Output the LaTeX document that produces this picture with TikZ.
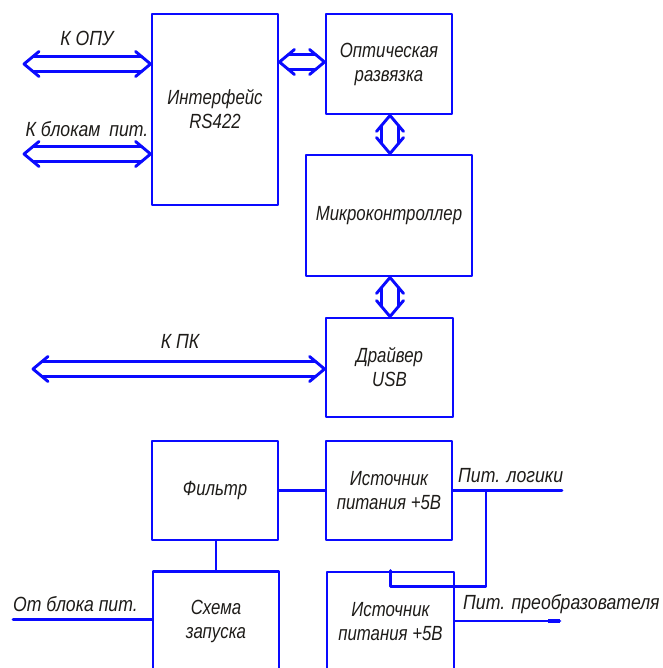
\documentclass[tikz,border=0pt]{standalone}
\usepackage{fontspec}
\setmainfont{Liberation Sans}
\newfontfamily\labfont{Liberation Sans}[FakeStretch=0.82]
\newfontfamily\extfont{Liberation Sans}[FakeStretch=0.86]
\usetikzlibrary{calc}
\definecolor{wireblue}{RGB}{10,10,255}
\definecolor{txtcol}{RGB}{30,28,25}
% horizontal double arrow between two named points (left, right)
\newcommand\HDbl[2]{%
 \draw[wire] ([shift={(9,-7.5)}]#1) -- ([shift={(-9,-7.5)}]#2);
 \draw[wire] ([shift={(9,7.5)}]#1) -- ([shift={(-9,7.5)}]#2);
 \draw[wire] ([shift={(15,-12.5)}]#1) -- (#1) -- ([shift={(15,12.5)}]#1);
 \draw[wire] ([shift={(-15,-12.5)}]#2) -- (#2) -- ([shift={(-15,12.5)}]#2);}
% vertical double arrow between two named points (top, bottom)
\newcommand\VDbl[2]{%
 \draw[wire] ([shift={(-8.5,10.1)}]#1) -- ([shift={(-8.5,-10.1)}]#2);
 \draw[wire] ([shift={(8.5,10.1)}]#1) -- ([shift={(8.5,-10.1)}]#2);
 \draw[wire] ([shift={(-13.5,16)}]#1) -- (#1) -- ([shift={(13.5,16)}]#1);
 \draw[wire] ([shift={(-13.5,-16)}]#2) -- (#2) -- ([shift={(13.5,-16)}]#2);}
\begin{document}
\begin{tikzpicture}[x=1pt,y=-1pt,
  wire/.style={draw=wireblue, line width=2.9pt, line join=round, line cap=round},
  stub/.style={draw=wireblue, line width=3.8pt},
  txtfont/.style={text=txtcol, font=\labfont\itshape\fontsize{20.5}{24}\selectfont},
  box/.style={wire, rectangle, inner sep=0pt, align=center, txtfont},
  lbl/.style={text=txtcol, font=\extfont\itshape\fontsize{20.5}{24}\selectfont, inner sep=0pt, anchor=base}]
\useasboundingbox (0,0) rectangle (662,668);
\clip (0,0) rectangle (662,668);

% blocks
\node[box, minimum width=126, minimum height=191] (rs)  at (215,109.5) {Интерфейс\\RS422};
\node[box, minimum width=126, minimum height=100] (opt) at (389,64)    {Оптическая\\развязка};
\node[box, minimum width=166, minimum height=121] (mc)  at (389,215.5) {Микроконтроллер};
\node[box, minimum width=127, minimum height=99]  (usb) at (389.5,367.5) {Драйвер\\USB};
\node[box, minimum width=126, minimum height=99]  (fil) at (215,490.5) {Фильтр};
\node[box, minimum width=126, minimum height=99]  (src1) at (389,490.5) {Источник\\питания +5В};
\node[box, minimum width=126, minimum height=100] (sch) at (216,621.5) {Схема\\запуска};
\node[box, minimum width=127, minimum height=100] (src2) at (390.5,622) {Источник\\питания +5В};

% labels
\node[lbl] (t1) at (87,45.5) {К ОПУ};
\node[lbl] (t2) at (87,136.5) {К блокам\hspace{4pt} пит.};
\node[lbl] (t3) at (180,348) {К ПК};
\node[lbl, anchor=base west] (t4) at (458,482) {Пит. логики};
\node[lbl, anchor=base west] (t5) at (463,609) {Пит. преобразователя};
\node[lbl, anchor=base west] (t6) at (13,611) {От блока пит.};

% double arrows
\coordinate (kopuL) at (24,64);
\coordinate (kopuR) at (rs.west |- kopuL);
\HDbl{kopuL}{kopuR}
\coordinate (kblL) at (24,154);
\coordinate (kblR) at (rs.west |- kblL);
\HDbl{kblL}{kblR}
\coordinate (roR) at ([yshift=2]opt.west);
\coordinate (roL) at (rs.east |- roR);
\HDbl{roL}{roR}
\coordinate (kpkL) at (33,369);
\coordinate (kpkR) at (usb.west |- kpkL);
\HDbl{kpkL}{kpkR}
\coordinate (v1t) at ([xshift=1]opt.south);
\coordinate (v1b) at (v1t |- mc.north);
\VDbl{v1t}{v1b}
\coordinate (v2t) at ([xshift=1]mc.south);
\coordinate (v2b) at (v2t |- usb.north);
\VDbl{v2t}{v2b}

% power connections
\draw[wire] (fil.east) -- (src1.west);
\coordinate (pl) at (562,490.5);
\draw[wire] (src1.east) -- (pl);
\draw[stub] ([xshift=-12]pl) -- (pl);
\coordinate (br) at (486,490.5);
\draw[wire] (br) |- ([yshift=-16]src2.north) -- (src2.north);
\draw[wire] (fil.south -| sch.north) -- (sch.north);
\coordinate (ob) at (13,619.5);
\coordinate (obR) at (sch.west |- ob);
\draw[wire] (ob) -- (obR);
\draw[stub] ([xshift=-10]obR) -- (obR);
\coordinate (pp) at (560,621);
\draw[wire] (src2.east |- pp) -- (pp);
\draw[stub] ([xshift=-12]pp) -- (pp);
\end{tikzpicture}
\end{document}
